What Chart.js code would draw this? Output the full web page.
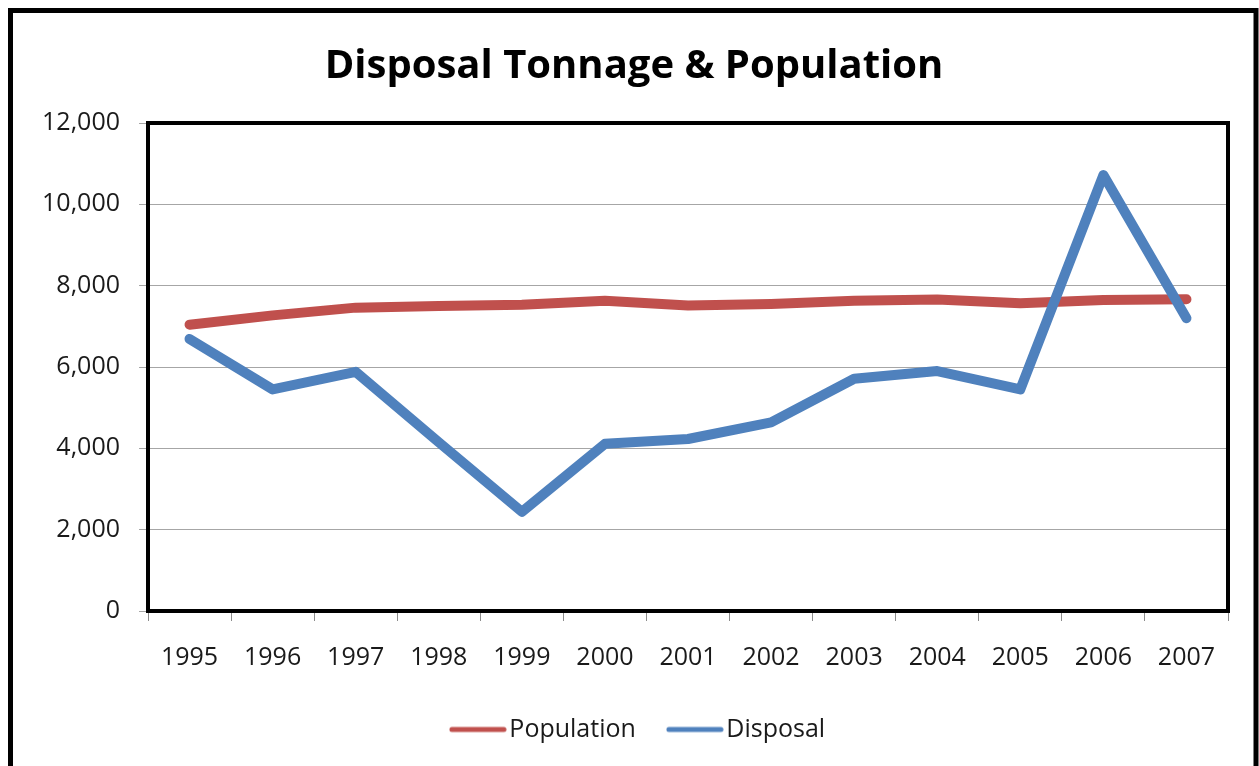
<!DOCTYPE html>
<html>
<head>
<meta charset="utf-8">
<script src="https://cdn.jsdelivr.net/npm/chart.js@4"></script>
<style>
  html, body { margin: 0; padding: 0; background: #fff; }
  canvas { display: block; }
</style>
</head>
<body>
<canvas id="myChart" width="1259" height="766"></canvas>
<script>
const labels = ['1995', '1996', '1997', '1998', '1999', '2000', '2001', '2002', '2003', '2004', '2005', '2006', '2007'];
const population = [7040, 7270, 7460, 7500, 7530, 7630, 7510, 7550, 7630, 7660, 7565, 7650, 7665];
const disposal = [6690, 5450, 5880, 4150, 2440, 4110, 4230, 4640, 5710, 5900, 5450, 10720, 7200];
const yMin = 0;
const yMax = 12000;
const yStep = 2000;

// white page, outer box and the black frame round the plot
const frames = {
    id: 'frames',
    afterLayout(chart) {
        // legend sits a little right of centre in the original
        chart.legend.left += 8;
        chart.legend.right += 8;
    },
    beforeDraw(chart) {
        const ctx = chart.ctx;
        ctx.save();
        ctx.fillStyle = '#fff';
        ctx.fillRect(0, 0, chart.width, chart.height);
        ctx.strokeStyle = '#000';
        ctx.lineWidth = 5;
        ctx.strokeRect(10.5, 10.5, 1245.5, 800);
        ctx.restore();
    },
    afterDatasetsDraw(chart) {
        const { ctx, chartArea: a } = chart;
        ctx.save();
        ctx.strokeStyle = '#000';
        ctx.lineWidth = 4;
        ctx.strokeRect(a.left, a.top, a.right - a.left, a.bottom - a.top);
        ctx.restore();
    }
};

// short thick line used as the legend sample
function legendLine(color) {
    const c = document.createElement('canvas');
    c.width = 58;
    c.height = 8;
    const g = c.getContext('2d');
    g.strokeStyle = color;
    g.lineWidth = 5;
    g.lineCap = 'round';
    g.beginPath();
    g.moveTo(3, 4);
    g.lineTo(55, 4);
    g.stroke();
    return c;
}

const data = {
    labels: labels,
    datasets: [
        {
            label: 'Population',
            data: population,
            borderColor: '#C0504D',
            backgroundColor: '#C0504D',
            borderWidth: 10,
            borderCapStyle: 'round',
            borderJoinStyle: 'round',
            pointRadius: 0,
            tension: 0,
            order: 1
        },
        {
            label: 'Disposal',
            data: disposal,
            borderColor: '#4F81BD',
            backgroundColor: '#4F81BD',
            borderWidth: 10,
            borderCapStyle: 'round',
            borderJoinStyle: 'round',
            pointRadius: 0,
            tension: 0,
            order: 0
        }
    ]
};

const config = {
    type: 'line',
    data: data,
    options: {
        responsive: false,
        animation: false,
        layout: {
            padding: { top: 14, left: 9, right: 0, bottom: 14 }
        },
        scales: {
            x: {
                offset: true,
                afterFit(scale) { scale.height = 66; },
                grid: {
                    offset: true,
                    drawOnChartArea: false,
                    tickLength: 10,
                    color: '#8c8c8c'
                },
                border: { display: false },
                ticks: {
                    padding: 22,
                    maxRotation: 0,
                    color: '#1a1a1a',
                    font: { family: 'Open Sans', size: 25 }
                }
            },
            y: {
                min: yMin,
                max: yMax,
                afterFit(scale) { scale.width = 139; },
                grid: {
                    tickLength: 9,
                    color: '#a6a6a6'
                },
                border: { display: false },
                ticks: {
                    stepSize: yStep,
                    padding: 19,
                    color: '#1a1a1a',
                    font: { family: 'Open Sans', size: 25 },
                    callback: (v) => v.toLocaleString('en-US')
                }
            },
            // empty strip on the right so the plot ends where the original does
            yRight: {
                position: 'right',
                afterFit(scale) { scale.width = 31; },
                grid: { display: false },
                border: { display: false },
                ticks: { display: false }
            }
        },
        plugins: {
            title: {
                display: true,
                text: 'Disposal Tonnage & Population',
                color: '#000',
                font: { family: 'Open Sans', size: 40, weight: 'bold' },
                padding: { top: 29, bottom: 32 }
            },
            legend: {
                display: true,
                position: 'bottom',
                labels: {
                    usePointStyle: true,
                    pointStyleWidth: 38,
                    padding: 40,
                    color: '#1a1a1a',
                    font: { family: 'Open Sans', size: 25 },
                    sort: (a, b) => a.datasetIndex - b.datasetIndex,
                    generateLabels(chart) {
                        return Chart.defaults.plugins.legend.labels.generateLabels(chart).map(item => {
                            item.pointStyle = legendLine(item.strokeStyle);
                            return item;
                        });
                    }
                }
            },
            tooltip: { enabled: false }
        }
    },
    plugins: [frames]
};

const myChart = new Chart(
    document.getElementById('myChart'),
    config
);
</script>
</body>
</html>
